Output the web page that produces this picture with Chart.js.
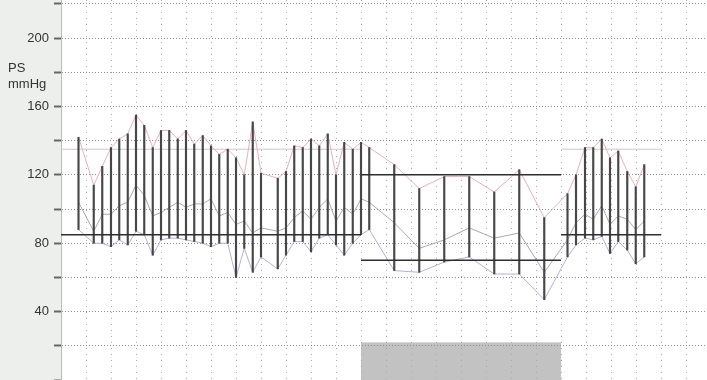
<!DOCTYPE html>
<html>
<head>
<meta charset="utf-8">
<script src="https://cdn.jsdelivr.net/npm/chart.js@4"></script>
<style>
  html, body { margin: 0; padding: 0; background: #fff; }
  #wrap { position: relative; width: 707px; height: 380px; }
  #unit { position: absolute; left: 8px; top: 60px; font: 13px "Liberation Sans", Arial, sans-serif; color: #333; line-height: 16px; }
</style>
</head>
<body>
<div id="wrap">
  <canvas id="bp" width="707" height="380"></canvas>
  <div id="unit">PS<br>mmHg</div>
</div>
<script>
// Hours since the start of the recording for each reading
const hours = [0.70, 1.31, 1.65, 2.00, 2.33, 2.67, 3.00, 3.33, 3.67, 4.00,
               4.33, 4.67, 5.00, 5.33, 5.67, 6.00, 6.33, 6.67, 7.00, 7.33,
               7.67, 8.00, 8.67, 9.00, 9.33, 9.67, 10.00, 10.33, 10.67, 11.00,
               11.33, 11.67, 12.00, 12.33,
               13.33, 14.33, 15.33, 16.33, 17.33, 18.33, 19.33,
               20.26, 20.60, 20.96, 21.29, 21.63, 21.96, 22.29, 22.65, 22.99, 23.33];
const systolic = [142, 114, 125, 136, 141, 144, 155, 149, 136, 146,
                  146, 141, 146, 138, 143, 137, 132, 135, 130, 120,
                  151, 121, 118, 122, 137, 136, 141, 137, 144, 120,
                  139, 135, 139, 136,
                  126, 112, 119, 119, 110, 123, 95,
                  109, 120, 136, 136, 141, 130, 134, 122, 113, 126];
const meanPressure = [104, 87, 97, 97, 102, 104, 114, 108, 96, 98,
                      101, 104, 101, 103, 103, 106, 96, 98, 91, 93,
                      86, 89, 87, 89, 95, 99, 94, 101, 106, 93,
                      101, 97, 106, 104,
                      92, 77, 82, 89, 83, 86, 63,
                      82, 92, 97, 94, 102, 91, 96, 94, 88, 93];
const diastolic = [88, 80, 80, 78, 82, 79, 87, 85, 73, 82,
                   83, 83, 82, 81, 80, 78, 80, 80, 60, 77,
                   63, 72, 65, 73, 81, 81, 75, 83, 85, 79,
                   73, 80, 85, 88,
                   64, 63, 69, 72, 62, 62, 47,
                   72, 79, 83, 82, 84, 74, 81, 76, 68, 72];

// Limit lines (start hour, end hour, level in mmHg)
const limitFrom  = [0, 12, 12, 20];
const limitTo    = [12, 20, 20, 24];
const limitLevel = [85, 120, 70, 85];
const softLimitFrom  = [0, 20];
const softLimitTo    = [12, 24];
const softLimitLevel = [135, 135];

// Night period band along the bottom
const nightPeriod = [12, 20];
const nightBandHeight = 22;

// Axis ticks
const yTickValues = [0, 20, 40, 60, 80, 100, 120, 140, 160, 180, 200, 220];
const yTickLabels = [40, 80, 120, 160, 200];
const hourTicks = [1, 2, 3, 4, 5, 6, 7, 8, 9, 10, 11, 12, 13, 14, 15, 16, 17, 18, 19, 20, 21, 22, 23, 24, 25];

const backdrop = {
  id: 'backdrop',
  beforeDraw(chart) {
    const { ctx, chartArea: a, scales: { x, y } } = chart;
    ctx.save();
    ctx.fillStyle = '#edefed';
    ctx.fillRect(0, 0, a.left, chart.height);
    ctx.fillStyle = '#ffffff';
    ctx.fillRect(a.left, 0, chart.width - a.left, chart.height);
    const x0 = x.getPixelForValue(nightPeriod[0]);
    const x1 = x.getPixelForValue(nightPeriod[1]);
    const yTop = y.getPixelForValue(nightBandHeight);
    ctx.fillStyle = '#c2c2c2';
    ctx.fillRect(x0, yTop, x1 - x0, a.bottom - yTop);
    ctx.restore();
  }
};

const seriesLine = (data, color, order) => ({
  type: 'line',
  data: hours.map((h, i) => ({ x: h, y: data[i] })),
  borderColor: color,
  borderWidth: 1,
  pointRadius: 0,
  tension: 0,
  order
});

const segment = (from, to, level, color, width, order) => ({
  type: 'line',
  data: [{ x: from, y: level }, { x: to, y: level }],
  borderColor: color,
  borderWidth: width,
  pointRadius: 0,
  order
});

const datasets = [
  ...limitFrom.map((f, i) => segment(f, limitTo[i], limitLevel[i], '#2e2e2e', 1.5, 0)),
  {
    type: 'bar',
    data: hours.map((h, i) => ({ x: h, y: [diastolic[i], systolic[i]] })),
    backgroundColor: '#474747',
    borderWidth: 0,
    barThickness: 1.5,
    order: 1
  },
  seriesLine(systolic, '#e6b2b9', 2),
  seriesLine(meanPressure, '#aaa7ba', 2),
  seriesLine(diastolic, '#b3b2d6', 2),
  ...softLimitFrom.map((f, i) => segment(f, softLimitTo[i], softLimitLevel[i], '#cfc6c6', 1, 3))
];

const noPadding = s => { s.paddingTop = 0; s.paddingBottom = 0; s.paddingLeft = 0; s.paddingRight = 0; };

new Chart(document.getElementById('bp'), {
  type: 'line',
  data: { datasets },
  plugins: [backdrop],
  options: {
    responsive: false,
    animation: false,
    devicePixelRatio: 1,
    layout: { padding: 0 },
    plugins: { legend: { display: false }, tooltip: { enabled: false } },
    scales: {
      x: {
        type: 'linear',
        min: 0,
        max: 25.84,
        offset: false,
        afterBuildTicks: s => { s.ticks = hourTicks.map(v => ({ value: v })); },
        afterFit: s => { s.height = 0; noPadding(s); },
        ticks: { display: false },
        grid: { color: '#a8a8a8', lineWidth: 1, drawTicks: false, offset: false },
        border: { display: false, dash: [1, 5] }
      },
      y: {
        type: 'linear',
        min: 0,
        max: 222.3,
        afterBuildTicks: s => { s.ticks = yTickValues.map(v => ({ value: v })); },
        afterFit: s => { s.width = 61; noPadding(s); },
        ticks: {
          padding: 5,
          color: '#333',
          font: { family: '"Liberation Sans", Arial, sans-serif', size: 13 },
          callback: v => yTickLabels.includes(v) ? String(v) : ''
        },
        grid: { color: '#8e8e8e', lineWidth: 1, tickLength: 7, tickColor: '#666', tickWidth: 2 },
        border: { display: true, color: '#bdbdbd', width: 1, dash: [1, 2] }
      }
    }
  }
});
</script>
</body>
</html>
